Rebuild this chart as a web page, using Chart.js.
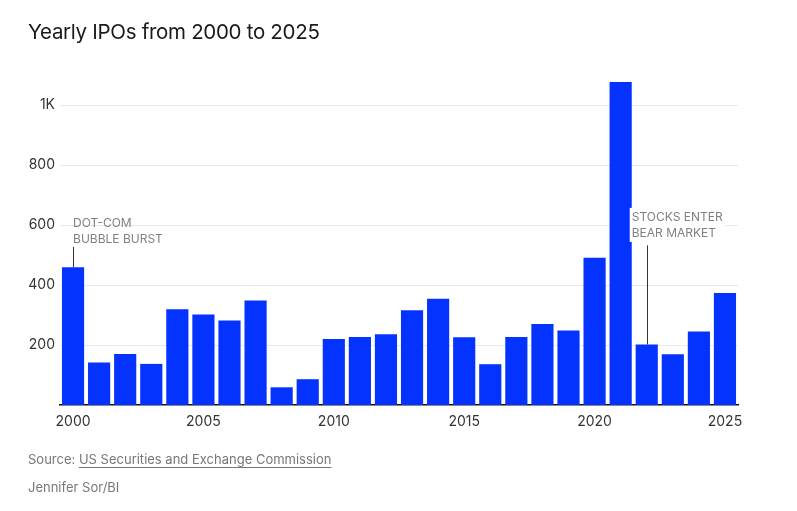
<!DOCTYPE html>
<html>
<head>
<meta charset="utf-8">
<script src="https://cdn.jsdelivr.net/npm/chart.js@4.4.1/dist/chart.umd.min.js"></script>
<style>
  body { margin: 0; background: #fff; font-family: Inter, "Noto Sans", sans-serif; }
  #wrap { position: relative; width: 797px; height: 511px; }
  #title { position: absolute; left: 28px; top: 19px; font-size: 20.5px; color: #1a1a1a; letter-spacing: -0.3px; }
  #source { position: absolute; left: 28px; top: 451px; font-size: 13px; color: #777; }
  #source span { text-decoration: underline; text-underline-offset: 3px; }
  #credit { position: absolute; left: 28px; top: 479px; font-size: 13px; color: #777; }
  canvas { position: absolute; left: 0; top: 0; }
</style>
</head>
<body>
<div id="wrap">
  <canvas id="chart-ipos" width="797" height="511"></canvas>
  <div id="title">Yearly IPOs from 2000 to 2025</div>
  <div id="source">Source: <span>US Securities and Exchange Commission</span></div>
  <div id="credit">Jennifer Sor/BI</div>
</div>
<script>
var years = [2000, 2001, 2002, 2003, 2004, 2005, 2006, 2007, 2008, 2009,
             2010, 2011, 2012, 2013, 2014, 2015, 2016, 2017, 2018, 2019,
             2020, 2021, 2022, 2023, 2024, 2025];
var ipoCounts = [459, 142, 170, 137, 319, 302, 282, 348, 59, 86,
                 220, 227, 236, 316, 354, 226, 136, 227, 270, 248,
                 491, 1077, 202, 169, 245, 373];
var yTicks = [200, 400, 600, 800, 1000];
var notes = [
    { year: 2000, lines: ["DOT-COM", "BUBBLE BURST"], textAt: 607, lineFrom: 527, lineTo: 459, bg: false },
    { year: 2022, lines: ["STOCKS ENTER", "BEAR MARKET"], textAt: 627, lineFrom: 532, lineTo: 202, bg: true }
];

// draws the two callouts, positioned off the chart scales
var notesPlugin = {
    id: 'notes',
    afterDatasetsDraw: function(chart) {
        var c = chart.ctx, x = chart.scales.x, y = chart.scales.y;
        c.save();
        c.font = '12px Inter, "Noto Sans", sans-serif';
        c.textBaseline = 'middle';
        notes.forEach(function(n) {
            var px = x.getPixelForValue(years.indexOf(n.year));
            var tx = n.bg ? px - 15 : px;
            var ty = y.getPixelForValue(n.textAt);
            if (n.bg) {
                var w = Math.max.apply(null, n.lines.map(function(l) { return c.measureText(l).width; }));
                c.fillStyle = '#fff';
                c.fillRect(tx - 2, ty - 9, w + 4, 34);
            }
            c.fillStyle = '#808080';
            n.lines.forEach(function(l, i) { c.fillText(l, tx, ty + i * 16); });
            c.strokeStyle = '#333';
            c.lineWidth = 1;
            c.beginPath();
            c.moveTo(Math.round(px) + 0.5, y.getPixelForValue(n.lineFrom));
            c.lineTo(Math.round(px) + 0.5, y.getPixelForValue(n.lineTo));
            c.stroke();
        });
        c.restore();
    }
};

var ctx = document.getElementById('chart-ipos');
var ipoChart = new Chart(ctx, {
    type: 'bar',
    data: {
        labels: years,
        datasets: [{
            data: ipoCounts,
            backgroundColor: '#0433ff',
            barPercentage: 0.85,
            categoryPercentage: 1
        }]
    },
    options: {
        responsive: false,
        animation: false,
        layout: { padding: { left: 0, right: 59, top: 75, bottom: 76 } },
        plugins: { legend: { display: false }, tooltip: { enabled: false } },
        scales: {
            x: {
                afterFit: function(s) { s.height = 30; },
                grid: { display: false },
                border: { color: '#111', width: 1.5 },
                ticks: {
                    autoSkip: false,
                    maxRotation: 0,
                    padding: 0,
                    color: '#333',
                    font: { size: 14, family: 'Inter, "Noto Sans", sans-serif' },
                    callback: function(v) { var yr = years[v]; return yr % 5 === 0 ? String(yr) : null; }
                }
            },
            y: {
                min: 0,
                max: 1100,
                afterFit: function(s) { s.width = 60; },
                afterBuildTicks: function(s) {
                    s.ticks = yTicks.map(function(v) { return { value: v }; });
                },
                border: { display: false },
                grid: { color: '#e8e8e8', drawTicks: false },
                ticks: {
                    padding: 5,
                    color: '#333',
                    font: { size: 14, family: 'Inter, "Noto Sans", sans-serif' },
                    callback: function(v) { return v >= 1000 ? (v / 1000) + 'K' : v; }
                }
            }
        }
    },
    plugins: [notesPlugin]
});
</script>
</body>
</html>
